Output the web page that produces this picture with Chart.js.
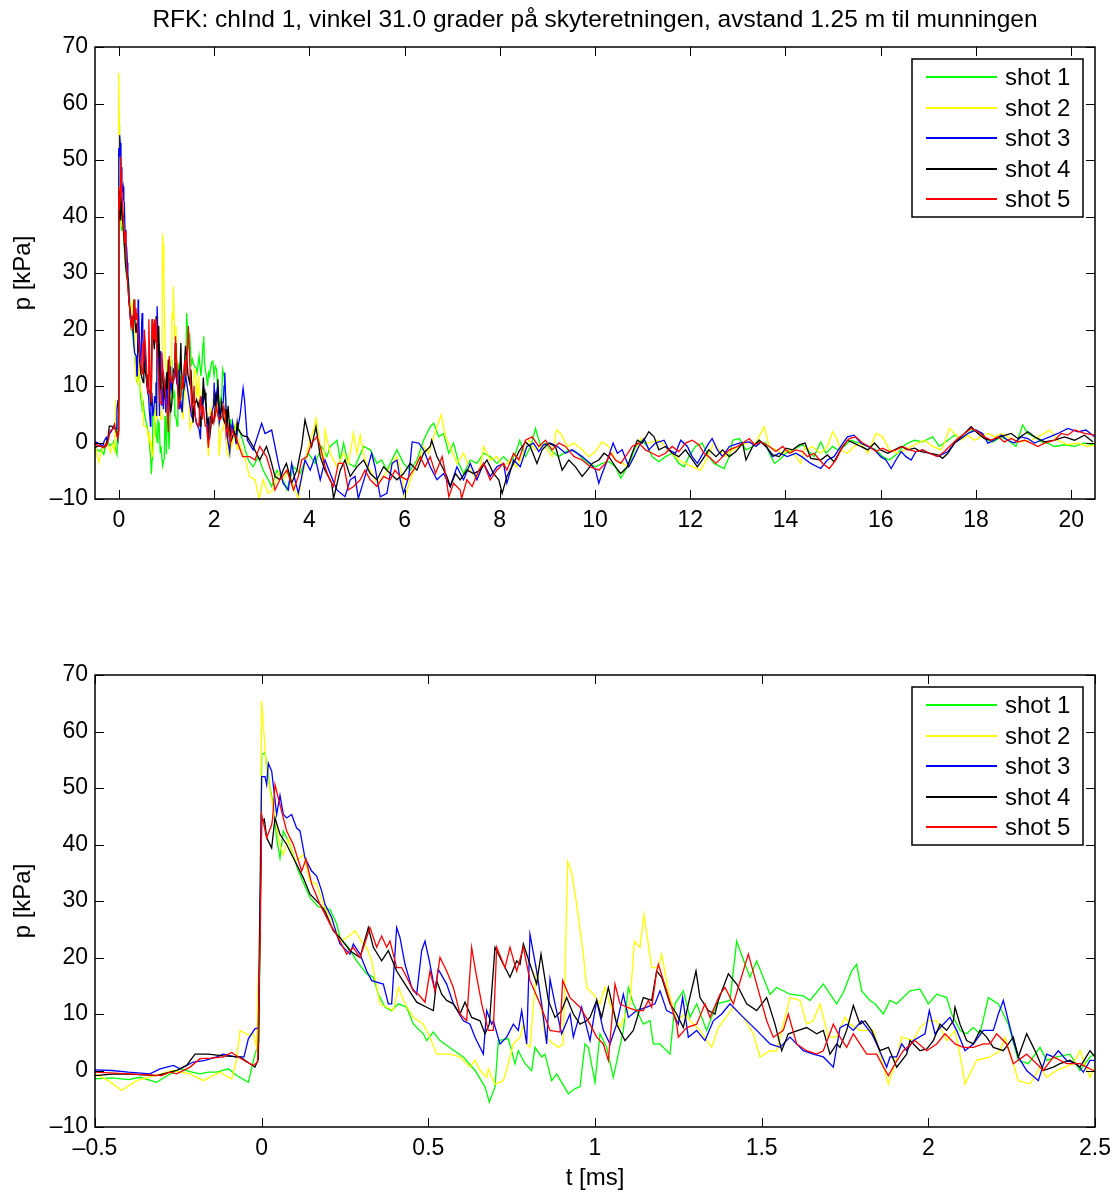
<!DOCTYPE html>
<html>
<head>
<meta charset="utf-8">
<title>RFK chInd 1</title>
<script src="https://cdn.jsdelivr.net/npm/chart.js@4.4.1/dist/chart.umd.min.js"></script>
<style>
  html, body { margin: 0; padding: 0; background: #fff; }
  #page { position: relative; width: 1117px; height: 1194px; }
  .panel { position: absolute; left: 0; }
</style>
</head>
<body>
<div id="page">
  <canvas id="overviewChart" class="panel" style="top:0" width="1117" height="560"></canvas>
  <canvas id="zoomChart" class="panel" style="top:600px" width="1117" height="594"></canvas>
</div>
<script>
// Trykk p [kPa] mot tid t [ms], fem skudd, kanal 1
const shotLabels = ['shot 1', 'shot 2', 'shot 3', 'shot 4', 'shot 5'];
const shotColors = ['#00ff00', '#ffff00', '#0000ff', '#000000', '#ff0000'];

const pTicks = [-10, 0, 10, 20, 30, 40, 50, 60, 70];
const tTicksOverview = [0, 2, 4, 6, 8, 10, 12, 14, 16, 18, 20];
const tTicksZoom = [-0.5, 0, 0.5, 1, 1.5, 2, 2.5];

const titleText = 'RFK: chInd 1, vinkel 31.0 grader på skyteretningen, avstand 1.25 m til munningen';

// [t, p] fra -0.5 til 2.5 ms (støtbølgen)
const shot1Start = [[-0.5,-1.5],[-0.45,-1.3],[-0.4,-1.6],[-0.365,-1.2],[-0.315,-2.1],[-0.28,-0.8],[-0.245,0.3],[-0.215,-0.2],[-0.185,-0.6],[-0.16,-0.3],[-0.135,-0.3],[-0.1,0.3],[-0.075,-0.9],[-0.04,-2.1],[-0.02,2.9],[-0.008,5],[0,55.9],[0.01,56.2],[0.015,54],[0.025,50],[0.035,47],[0.045,41],[0.055,37.6],[0.065,42.4],[0.085,40],[0.11,35.3],[0.145,30.6],[0.17,29],[0.205,28.5],[0.225,26],[0.235,23.5],[0.26,21.8],[0.285,19.4],[0.315,17.1],[0.335,16.5],[0.35,13.5],[0.37,11.2],[0.39,10.6],[0.41,11.8],[0.435,11.2],[0.455,8.2],[0.485,6.5],[0.495,5.3],[0.515,6.8],[0.535,5.3],[0.57,3.8],[0.605,2.4],[0.64,0],[0.67,-2.9],[0.683,-5.6],[0.7,-2.9],[0.71,5.3],[0.74,5.6],[0.76,1.2],[0.77,3.5],[0.79,1.2],[0.81,0],[0.82,4.1],[0.84,2.4],[0.85,2.9],[0.87,-1.8],[0.885,-0.6],[0.92,-4.1],[0.94,-3.2],[0.955,-2.9],[0.97,4.7],[0.98,4.1],[1.0,-2.1],[1.015,6.5],[1.035,4.1],[1.055,-1.2],[1.085,7.1],[1.1,14.7],[1.115,11.8],[1.145,8.2],[1.165,8.8],[1.175,4.7],[1.195,4.7],[1.225,2.9],[1.24,11.8],[1.265,14.1],[1.285,9.4],[1.305,11.8],[1.335,7.1],[1.365,11.8],[1.405,12.4],[1.425,22.9],[1.45,18.8],[1.465,16.5],[1.485,19.4],[1.525,13.5],[1.545,14.7],[1.585,13.5],[1.625,13.2],[1.645,12.4],[1.685,15.3],[1.725,11.8],[1.745,13.8],[1.77,17.6],[1.785,18.8],[1.8,14.1],[1.825,12.4],[1.84,11.8],[1.865,10],[1.885,12.4],[1.905,11.8],[1.945,14.1],[1.975,14.4],[2.0,11.8],[2.025,13.5],[2.055,12.9],[2.07,10],[2.095,7.1],[2.115,6.5],[2.135,7.6],[2.155,6.5],[2.18,12.9],[2.21,11.8],[2.24,8.2],[2.27,1.8],[2.3,1.2],[2.335,4.1],[2.355,1.8],[2.385,2.4],[2.425,2.9],[2.455,0],[2.485,2.4],[2.5,2.9]];
const shot2Start = [[-0.5,-0.6],[-0.46,-1.8],[-0.42,-3.5],[-0.375,-1.8],[-0.32,-0.9],[-0.265,0],[-0.215,-0.6],[-0.175,-1.8],[-0.125,-0.3],[-0.09,-1.5],[-0.075,2],[-0.065,7.1],[-0.035,6.2],[-0.025,6.5],[-0.015,4.1],[-0.005,30],[0,65.4],[0.015,53],[0.03,48],[0.055,40],[0.065,38.2],[0.08,41],[0.1,37],[0.125,38.2],[0.145,33.5],[0.165,33],[0.185,29.4],[0.21,26.5],[0.235,22.9],[0.255,23.5],[0.28,24.7],[0.305,22.4],[0.315,21.8],[0.33,19.4],[0.355,11.8],[0.375,11.2],[0.395,10.6],[0.41,14.7],[0.43,11.8],[0.455,9.4],[0.485,8.2],[0.505,5.9],[0.525,2.9],[0.565,2.9],[0.595,2.4],[0.625,0.6],[0.64,1.8],[0.655,0],[0.675,-1.2],[0.68,0.3],[0.7,-2.4],[0.725,-1.8],[0.74,1.2],[0.755,4.7],[0.775,5.9],[0.785,8.2],[0.795,4.7],[0.805,4.1],[0.825,18.2],[0.85,5.9],[0.89,4.1],[0.905,4.7],[0.918,37],[0.93,35],[0.945,29.4],[0.965,20.6],[0.975,14.7],[0.995,13.5],[1.015,11.8],[1.03,14.7],[1.045,11.8],[1.075,7.6],[1.105,11.8],[1.118,22.9],[1.135,21.8],[1.147,27.6],[1.17,18.2],[1.19,18.2],[1.2,20.6],[1.22,14.1],[1.245,8.8],[1.27,10],[1.285,8.8],[1.315,7.1],[1.35,4.1],[1.37,7.6],[1.415,11.2],[1.445,9.4],[1.475,6.5],[1.495,2.4],[1.525,3.5],[1.545,3.5],[1.565,8.2],[1.585,12.9],[1.615,12.4],[1.635,8.2],[1.655,8.8],[1.675,11.8],[1.7,5.9],[1.725,5.9],[1.75,9.4],[1.765,8.2],[1.795,7.1],[1.835,7.1],[1.855,2.9],[1.88,-2.4],[1.9,1.2],[1.92,5.9],[1.955,5.3],[1.975,7.6],[2.0,8.8],[2.025,8.8],[2.055,5.3],[2.08,7.1],[2.1,1.2],[2.11,-2.4],[2.145,1.8],[2.185,2.4],[2.215,3.5],[2.23,5.9],[2.255,1.2],[2.27,-1.8],[2.305,-2.4],[2.335,0.6],[2.355,-1.2],[2.385,0],[2.435,1.2],[2.455,3.5],[2.485,-1.2],[2.5,0.6]];
const shot3Start = [[-0.5,0.1],[-0.45,0],[-0.4,-0.3],[-0.335,-0.6],[-0.305,0.3],[-0.265,0.9],[-0.245,0.3],[-0.205,1.5],[-0.17,1.8],[-0.135,2.4],[-0.115,2.9],[-0.08,2.4],[-0.053,2.4],[-0.04,5.6],[-0.02,7.4],[-0.01,7.5],[-0.003,40],[0,52],[0.01,52],[0.015,50.6],[0.02,54.4],[0.03,53],[0.045,45.3],[0.055,48.7],[0.065,45.3],[0.075,44.7],[0.09,45.3],[0.105,42.9],[0.115,42.4],[0.13,37.6],[0.15,35.3],[0.165,34.4],[0.18,31.8],[0.19,29.4],[0.21,27.1],[0.225,24.1],[0.235,22.4],[0.265,20.6],[0.275,22.4],[0.295,20.6],[0.315,17.6],[0.33,15.9],[0.365,15.3],[0.38,11.8],[0.39,11.8],[0.405,25.3],[0.415,23.5],[0.43,18.8],[0.45,14.7],[0.465,13.5],[0.48,21.2],[0.49,22.9],[0.503,19.4],[0.52,14.1],[0.53,17.9],[0.555,15.3],[0.575,11.8],[0.605,8.8],[0.625,8.2],[0.64,5.9],[0.665,2.9],[0.675,10.6],[0.69,8.2],[0.695,8.8],[0.715,4.7],[0.735,5.9],[0.755,8.2],[0.77,7.1],[0.78,10.6],[0.795,4.7],[0.805,24.1],[0.825,17.6],[0.84,11.8],[0.855,4.7],[0.865,16.2],[0.88,11.8],[0.9,6.5],[0.925,10],[0.935,5.9],[0.96,11.2],[0.985,5.3],[1.005,12.4],[1.025,7.1],[1.045,4.7],[1.065,8.2],[1.085,13.5],[1.1,9.4],[1.125,10.6],[1.155,11.2],[1.18,11.8],[1.195,14.1],[1.215,10.6],[1.235,10],[1.25,8.2],[1.263,12.9],[1.28,5.9],[1.305,7.1],[1.33,5.3],[1.355,8.8],[1.38,10],[1.405,11.8],[1.445,9.4],[1.485,7.1],[1.525,4.7],[1.555,4.1],[1.585,5.9],[1.625,3.5],[1.655,2.9],[1.685,2.4],[1.715,0.6],[1.735,7.6],[1.755,8.2],[1.775,7.1],[1.8,8.8],[1.83,6.5],[1.845,4.7],[1.875,0.6],[1.885,2.4],[1.905,2.4],[1.92,4.7],[1.935,3.5],[1.955,5.3],[1.99,6.5],[2.003,10.6],[2.02,6.5],[2.045,8.2],[2.065,9.4],[2.085,7.1],[2.11,3.5],[2.135,4.7],[2.165,7.1],[2.195,7.1],[2.21,10],[2.225,12.4],[2.24,8.8],[2.255,5.3],[2.27,2.4],[2.295,0],[2.33,-1.8],[2.355,2.9],[2.375,2.4],[2.39,3.5],[2.415,1.8],[2.445,1.2],[2.465,-0.3],[2.485,1.8],[2.5,1.8]];
const shot4Start = [[-0.5,-0.9],[-0.44,-0.6],[-0.38,-0.7],[-0.315,-0.9],[-0.255,0],[-0.225,0.9],[-0.2,2.9],[-0.16,2.9],[-0.115,2.6],[-0.065,2.4],[-0.035,1.2],[-0.02,0.6],[-0.01,2],[-0.004,30],[0,44],[0.008,44.5],[0.015,41.2],[0.03,39.4],[0.04,44.7],[0.055,41.8],[0.075,40],[0.095,37.6],[0.125,34.1],[0.145,31.2],[0.175,29.4],[0.19,28.2],[0.215,24.7],[0.235,23.5],[0.265,21.2],[0.295,20],[0.32,25.3],[0.335,21.8],[0.36,19.4],[0.38,21.2],[0.405,17.6],[0.43,15.3],[0.465,12.1],[0.495,11.2],[0.515,10.6],[0.525,15.9],[0.54,13.5],[0.555,12.4],[0.575,11.8],[0.595,10],[0.61,12.1],[0.63,9.4],[0.655,8.8],[0.67,6.5],[0.683,8.2],[0.7,21.8],[0.725,18.8],[0.745,16.5],[0.765,19.4],[0.775,18.8],[0.785,22.4],[0.805,18.8],[0.825,15.3],[0.838,20.6],[0.86,12.4],[0.88,9.4],[0.9,10.6],[0.915,12.9],[0.935,10],[0.955,8.2],[0.975,8.8],[0.985,9.4],[1.005,12.4],[1.02,9.4],[1.04,14.7],[1.065,8.2],[1.09,5.3],[1.115,7.1],[1.145,12.9],[1.17,12.4],[1.185,17.6],[1.2,16.5],[1.225,11.8],[1.245,10],[1.265,7.6],[1.28,11.8],[1.303,17.6],[1.315,12.9],[1.34,10.6],[1.36,10],[1.37,12.4],[1.4,17.1],[1.425,15.3],[1.455,11.8],[1.485,10.6],[1.515,12.9],[1.54,8.2],[1.56,3.5],[1.58,6.5],[1.61,7.1],[1.635,7.6],[1.665,6.5],[1.685,7.1],[1.705,2.9],[1.725,4.7],[1.735,4.1],[1.755,7.1],[1.775,11.5],[1.795,8.2],[1.81,8.8],[1.83,7.1],[1.855,3.5],[1.88,4.1],[1.905,0.6],[1.935,2.9],[1.945,5.3],[1.975,3.5],[1.995,3.8],[2.015,5.3],[2.035,8.2],[2.055,7.1],[2.075,8.8],[2.08,11.2],[2.095,8.2],[2.115,5.3],[2.135,4.7],[2.155,7.1],[2.175,5.9],[2.195,4.1],[2.225,3.5],[2.255,5.9],[2.27,2.4],[2.295,6.5],[2.325,2.9],[2.345,0],[2.375,0.6],[2.395,1.2],[2.425,1.8],[2.455,0.6],[2.485,3.5],[2.5,2.4]];
const shot5Start = [[-0.5,-0.3],[-0.4,-0.6],[-0.3,-0.9],[-0.275,-0.3],[-0.255,-0.6],[-0.215,0.6],[-0.185,2.1],[-0.15,2.2],[-0.115,2.4],[-0.09,3.2],[-0.07,2.4],[-0.045,1.5],[-0.025,0.9],[-0.012,1.5],[-0.004,25],[0,45.3],[0.015,41.2],[0.03,43.5],[0.033,44.7],[0.04,50.6],[0.055,47],[0.075,42.4],[0.095,40],[0.12,35.3],[0.133,37.4],[0.15,33],[0.175,29.4],[0.205,25.9],[0.23,23.5],[0.255,20.6],[0.275,21.8],[0.295,20],[0.325,25.3],[0.345,21.8],[0.36,23.8],[0.375,21.8],[0.385,22.9],[0.405,18.2],[0.42,18.2],[0.435,16.5],[0.455,14.1],[0.47,13.5],[0.49,12.1],[0.505,17.6],[0.52,14.1],[0.535,20],[0.555,17.6],[0.575,14.7],[0.595,10],[0.615,8.8],[0.63,21.8],[0.64,18.2],[0.66,11.8],[0.68,7.1],[0.695,7.1],[0.705,21.8],[0.73,18.2],[0.745,21.8],[0.765,17.6],[0.785,21.8],[0.805,15.9],[0.835,11.8],[0.865,7.1],[0.895,6.8],[0.903,15.9],[0.925,12.9],[0.955,11.2],[0.985,8.2],[1.005,5.9],[1.025,4.7],[1.04,1.8],[1.06,15.3],[1.075,11.8],[1.095,11.2],[1.125,10.6],[1.145,10.6],[1.16,12.4],[1.17,11.2],[1.185,17.6],[1.19,18.8],[1.215,14.1],[1.245,8.2],[1.25,5.9],[1.275,7.6],[1.305,8.2],[1.33,11.8],[1.345,9.4],[1.375,13.5],[1.39,14.7],[1.415,11.8],[1.46,20.6],[1.485,15.3],[1.515,8.8],[1.535,5.9],[1.565,7.1],[1.58,10],[1.605,4.7],[1.635,3.5],[1.665,2.9],[1.685,3.5],[1.715,8.2],[1.735,5.9],[1.755,4.1],[1.775,6.5],[1.795,4.7],[1.815,2.9],[1.845,2.9],[1.86,1.2],[1.88,-0.9],[1.9,1.2],[1.925,3.5],[1.96,5.3],[1.995,3.5],[2.025,4.7],[2.05,6.5],[2.08,4.7],[2.105,4.1],[2.135,4.1],[2.165,4.7],[2.185,4.7],[2.205,6.5],[2.235,4.7],[2.255,1.2],[2.295,2.9],[2.325,1.2],[2.345,0],[2.375,2.4],[2.415,1.2],[2.455,1.2],[2.495,0]];

// [t, p] fra 2.5 til 20.5 ms (etterforløpet)
const shot1Tail = [[2.6,0.4],[2.72,-3.1],[2.82,-4.3],[2.93,-2.5],[3.03,-4.9],[3.14,-6.6],[3.21,-7.8],[3.32,-4.9],[3.45,-6.6],[3.53,-8.4],[3.67,-4.3],[3.81,-5.5],[3.98,-1.9],[4.12,-3.7],[4.26,-0.7],[4.37,-2.5],[4.44,-0.7],[4.58,0.4],[4.65,-3.1],[4.72,-0.1],[4.82,-3.7],[4.96,-4.3],[5.14,-0.7],[5.28,-1.3],[5.42,-3.7],[5.52,-3.1],[5.63,-4.9],[5.77,-2.5],[5.84,-1.3],[5.98,-3.7],[6.12,-4.9],[6.26,-3.1],[6.4,0.4],[6.54,2.8],[6.61,3.4],[6.72,1],[6.82,1.6],[6.93,-1.9],[7.03,-0.1],[7.14,-3.7],[7.24,-5.5],[7.38,-3.1],[7.52,-3.7],[7.66,-1.9],[7.8,-2.5],[7.94,-3.7],[8.08,-2.5],[8.22,-3.7],[8.33,-1.9],[8.42,0.4],[8.54,-2.5],[8.65,-0.7],[8.75,2.5],[8.86,-0.7],[8.96,-0.1],[9.1,-1.6],[9.24,-2.5],[9.45,-1.3],[9.59,-1.6],[9.73,-2.8],[9.87,-3.7],[10.01,-4.3],[10.15,-3.7],[10.29,-3.4],[10.43,-4.3],[10.54,-6.3],[10.64,-4.9],[10.75,-3.1],[10.85,-0.7],[10.99,0.4],[11.1,-0.7],[11.2,-2.5],[11.34,-3.4],[11.48,-2.5],[11.62,-1.9],[11.76,-3.7],[11.87,-4.3],[11.97,-2.5],[12.11,-0.7],[12.25,-0.1],[12.39,-2.5],[12.5,-3.7],[12.71,-4.6],[12.82,-2.5],[12.89,0.4],[13.03,0.7],[13.17,-1.3],[13.31,-0.7],[13.45,0.1],[13.59,-0.1],[13.66,-1.9],[13.77,-3.7],[13.87,-3.1],[14.01,-1.9],[14.15,-1.3],[14.36,-0.4],[14.6,-2.5],[14.74,0.1],[14.85,-1.9],[14.99,-0.7],[15.09,-1.3],[15.23,-0.7],[15.37,0.4],[15.55,-0.1],[15.73,-0.7],[15.9,-1.3],[16.04,-2.5],[16.18,-3.1],[16.36,-1.9],[16.46,-0.7],[16.57,-0.1],[16.71,0.4],[16.88,0.1],[17.09,1],[17.23,-0.7],[17.41,0.4],[17.55,1.3],[17.69,0.7],[17.83,1.6],[17.93,2.2],[18.11,1.6],[18.25,0.4],[18.35,0.1],[18.53,1],[18.67,0.4],[18.84,-0.7],[18.91,1.3],[18.98,3.1],[19.09,1.6],[19.23,1],[19.37,0.1],[19.51,-0.1],[19.65,-0.7],[19.86,-0.4],[20.07,-0.7],[20.28,-0.1],[20.49,-0.4]];
const shot2Tail = [[2.68,-3.7],[2.74,-6],[2.86,-6.6],[2.95,-9.9],[3.03,-6.6],[3.14,-9],[3.24,-8.4],[3.38,-4.9],[3.45,-6.6],[3.56,-4.9],[3.67,-7.8],[3.77,-9.9],[3.84,-6.6],[3.98,-0.7],[4.09,2.2],[4.14,4.3],[4.23,-0.7],[4.3,-3.7],[4.33,2.2],[4.44,-1.9],[4.58,-4.3],[4.72,-1.9],[4.82,-3.7],[4.93,1.6],[5.0,-1.9],[5.07,1.3],[5.17,-3.1],[5.28,-4.9],[5.42,-7.2],[5.56,-6],[5.7,-4.3],[5.84,-2.5],[5.94,-5.5],[6.0,-9.9],[6.12,-6.6],[6.26,-3.7],[6.4,-0.7],[6.5,-1.9],[6.68,2.8],[6.77,4.9],[6.86,1],[6.96,-0.7],[7.1,-3.7],[7.24,-1.9],[7.38,-4.9],[7.52,-6.6],[7.59,-4.3],[7.66,-0.7],[7.8,-3.1],[7.94,-2.5],[8.08,-4.3],[8.22,-3.1],[8.36,-4.3],[8.5,-1.9],[8.61,0.4],[8.75,-1.3],[8.92,-0.4],[9.1,-2.5],[9.19,2.2],[9.28,1.6],[9.42,-0.7],[9.56,-0.1],[9.73,-1.3],[9.87,-2.5],[10.01,-1.6],[10.14,0.1],[10.29,-0.7],[10.43,-3.1],[10.57,-3.7],[10.71,-4.3],[10.82,-2.5],[10.96,0.7],[11.1,-0.1],[11.34,0.4],[11.48,-0.7],[11.62,-1.9],[11.76,-3.1],[11.9,-3.7],[12.05,-4.3],[12.22,-4.9],[12.33,-3.1],[12.5,-0.1],[12.6,-1.3],[12.75,-2.5],[12.89,-1.3],[13.03,-0.7],[13.24,0.1],[13.38,-0.1],[13.55,2.8],[13.66,-0.7],[13.8,-1.3],[13.94,-1.9],[14.08,-1.3],[14.22,-2.5],[14.32,-3.7],[14.41,-0.7],[14.46,-1.3],[14.56,-0.7],[14.74,-1.9],[14.88,-0.7],[14.99,1.9],[15.06,1],[15.16,-1.3],[15.3,-1.9],[15.44,-0.7],[15.58,-0.1],[15.73,-1.9],[15.9,1.6],[16.04,1],[16.18,-1.3],[16.36,-1.9],[16.5,-1.3],[16.64,-0.7],[16.78,-0.1],[16.92,0.4],[17.09,-0.7],[17.27,-1.3],[17.34,-0.1],[17.44,2.5],[17.55,1.6],[17.69,0.4],[17.83,1.3],[17.97,0.4],[18.11,1],[18.25,1.6],[18.39,1],[18.53,1.6],[18.74,0.7],[18.95,0.1],[19.16,0.4],[19.37,1.3],[19.55,2.2],[19.72,0.4],[19.93,-0.4],[20.14,-0.1],[20.35,-0.7],[20.49,-0.4]];
const shot3Tail = [[2.55,5],[2.61,9.6],[2.64,7.5],[2.7,0.4],[2.82,-1.3],[3.0,3.4],[3.07,1.6],[3.21,2.2],[3.28,-0.7],[3.35,-3.7],[3.45,-7.2],[3.56,-8.4],[3.63,-3.7],[3.7,-6.6],[3.77,-9],[3.91,-3.1],[4.02,-4.9],[4.12,-2.5],[4.23,-6.6],[4.33,-3.1],[4.44,-5.5],[4.58,-8.4],[4.75,-9.6],[4.86,-6.6],[4.96,-6],[5.03,-9.9],[5.21,-4.9],[5.31,-1.9],[5.38,-4.3],[5.49,-9.6],[5.63,-9],[5.74,-3.7],[5.84,-3.1],[5.91,-6.6],[5.98,-9],[6.09,-6],[6.16,0.1],[6.3,-0.1],[6.4,-1.3],[6.54,-4.3],[6.68,-6.6],[6.82,-5.5],[6.96,-7.8],[7.1,-4.3],[7.24,-6.6],[7.38,-3.7],[7.52,-6.6],[7.66,-3.7],[7.8,-6],[7.94,-4.3],[8.08,-3.7],[8.15,-7.2],[8.29,-3.1],[8.43,-4.3],[8.57,-0.7],[8.71,-0.1],[8.82,-1.6],[8.92,-0.4],[9.07,-0.1],[9.21,-0.7],[9.38,-1.9],[9.52,-1.3],[9.73,-2.5],[9.9,-3.7],[10.01,-4.9],[10.08,-7.2],[10.15,-5.5],[10.26,-3.1],[10.38,-0.1],[10.47,-1.9],[10.57,-1.3],[10.71,-4.3],[10.82,-2.5],[10.92,-0.7],[11.03,0.7],[11.13,-1.3],[11.27,-0.1],[11.45,0.4],[11.55,-1.3],[11.69,-1.9],[11.8,0.4],[11.94,-0.7],[12.04,-2.5],[12.15,-3.7],[12.25,-2.2],[12.39,-0.1],[12.46,0.7],[12.57,-1.3],[12.68,-2.5],[12.82,-0.7],[13.03,-0.1],[13.24,0.1],[13.38,-0.7],[13.49,0.1],[13.59,-0.7],[13.73,-2.5],[13.87,-1.9],[14.04,-2.5],[14.22,-1.9],[14.34,-2.5],[14.53,-3.7],[14.74,-4.6],[14.88,-3.1],[15.02,-2.5],[15.16,-0.7],[15.3,1],[15.44,1.3],[15.58,-0.1],[15.73,-0.7],[15.87,-1.3],[16.0,-2.5],[16.11,-3.1],[16.22,-4.6],[16.32,-3.1],[16.43,-1.6],[16.53,-2.5],[16.64,-3.1],[16.74,-1.6],[16.88,-1.3],[17.02,-1.9],[17.2,-2.5],[17.41,-1.6],[17.55,-0.1],[17.69,0.7],[17.83,1.6],[18.0,2.2],[18.14,1.6],[18.25,-0.1],[18.39,0.4],[18.53,1.3],[18.67,0.4],[18.81,-0.1],[18.95,1],[19.09,0.7],[19.23,-0.1],[19.37,0.4],[19.55,1],[19.72,1.6],[19.93,2.5],[20.14,1.9],[20.31,2.2],[20.49,1]];
const shot4Tail = [[2.6,1.2],[2.7,1],[2.82,-0.7],[2.96,-3.1],[3.1,-0.7],[3.17,-2.5],[3.28,-6],[3.38,-6.6],[3.45,-4.9],[3.52,-3.7],[3.63,-7.2],[3.74,-4.9],[3.84,-0.7],[3.91,4],[3.98,1.6],[4.05,-0.7],[4.14,2.8],[4.23,-2.5],[4.33,-4.9],[4.4,-6],[4.47,-7.2],[4.51,-9.9],[4.65,-4.9],[4.75,-3.1],[4.86,-6],[5.0,-4.3],[5.14,-3.1],[5.28,-5.5],[5.42,-6.6],[5.56,-4.3],[5.7,-5.5],[5.84,-6.6],[5.98,-5.5],[6.12,-3.7],[6.26,-4.9],[6.4,-1.9],[6.54,-0.7],[6.57,0.4],[6.68,-2.5],[6.79,-4.3],[6.89,-6],[6.96,-7.8],[7.07,-5.5],[7.17,-6.6],[7.31,-4.9],[7.45,-5.5],[7.59,-4.9],[7.73,-3.1],[7.87,-5.5],[7.98,-6.6],[8.05,-9],[8.15,-6],[8.29,-3.7],[8.4,-1.6],[8.54,0.1],[8.64,-0.7],[8.78,-3.7],[8.89,-1.3],[9.03,-0.1],[9.17,-0.7],[9.31,-4.9],[9.45,-3.1],[9.59,-4.3],[9.73,-6],[9.84,-4.9],[9.94,-3.7],[10.08,-3.1],[10.19,-1.9],[10.29,-2.5],[10.43,-4.3],[10.54,-5.5],[10.68,-4.3],[10.78,-1.9],[10.89,0.4],[10.99,-0.1],[11.13,1.9],[11.24,1],[11.34,-1.3],[11.48,-0.7],[11.62,-1.9],[11.76,-2.5],[11.9,-1.3],[12.0,-2.5],[12.15,-4.3],[12.25,-3.1],[12.39,-1.3],[12.54,-2.5],[12.68,-1.3],[12.82,-2.5],[12.96,-1.6],[13.1,-0.1],[13.17,-3.1],[13.31,-0.7],[13.45,0.4],[13.59,-0.7],[13.73,-2.2],[13.87,-2.5],[14.01,-1],[14.15,-1.3],[14.29,-0.4],[14.41,-0.1],[14.53,-2.8],[14.74,-3.1],[14.88,-2.2],[15.02,-3.4],[15.16,-1.3],[15.3,0.4],[15.44,-0.1],[15.58,-0.7],[15.73,-1.3],[15.87,-0.1],[16.0,-1.3],[16.15,-1.9],[16.29,-1.3],[16.43,-0.7],[16.57,-1.3],[16.71,-1],[16.85,-1.6],[17.02,-1.9],[17.2,-2.2],[17.3,-2.8],[17.41,-1.9],[17.55,-0.1],[17.69,1],[17.83,2.2],[17.9,2.8],[18.04,1.6],[18.18,0.7],[18.32,0.4],[18.5,1],[18.74,1.6],[18.88,0.7],[19.09,1.9],[19.23,1],[19.44,0.1],[19.65,0.4],[19.86,1],[20.07,0.4],[20.28,1.3],[20.46,0.1]];
const shot5Tail = [[2.6,-2.5],[2.75,-2.5],[2.86,-3.1],[2.96,-0.7],[3.1,-2.5],[3.21,-5.5],[3.28,-8.4],[3.38,-6.6],[3.53,-4.9],[3.67,-8.4],[3.77,-6],[3.84,-3.1],[3.95,-2.5],[4.05,-0.1],[4.16,1],[4.23,-0.7],[4.33,-4.3],[4.4,-6],[4.51,-7.8],[4.61,-3.7],[4.72,-3.7],[4.82,-8.4],[4.93,-7.8],[5.07,-6.6],[5.17,-4.9],[5.28,-6.6],[5.42,-7.8],[5.56,-6],[5.7,-6.6],[5.8,-4.9],[5.91,-6],[6.05,-6.6],[6.23,-4.3],[6.33,-2.5],[6.43,-4.3],[6.54,-2.5],[6.65,-5.5],[6.79,-2.5],[6.86,-5.5],[6.93,-9.6],[7.03,-7.2],[7.17,-8.4],[7.2,-9.9],[7.31,-6.6],[7.42,-7.8],[7.56,-4.9],[7.66,-3.7],[7.8,-6.6],[7.94,-4.9],[8.08,-3.7],[8.15,-4.9],[8.29,-1.9],[8.4,-3.1],[8.54,0.4],[8.68,1],[8.82,-0.7],[8.96,0.4],[9.1,-1.3],[9.24,-0.1],[9.38,-0.7],[9.56,-2.5],[9.73,-3.1],[9.9,-4.3],[10.08,-4.9],[10.22,-3.7],[10.33,-1.9],[10.43,-3.1],[10.54,-3.7],[10.64,-2.5],[10.78,-0.7],[10.92,-0.1],[11.06,-1.3],[11.2,-1.9],[11.34,-2.5],[11.48,-1.9],[11.62,-0.7],[11.76,-1.6],[11.9,-0.1],[12.04,0.4],[12.18,-0.4],[12.29,-1.9],[12.39,-2.5],[12.54,-3.7],[12.68,-2.5],[12.82,-1.3],[12.99,-0.7],[13.1,-0.1],[13.24,0.7],[13.35,-0.4],[13.49,0.1],[13.66,-0.7],[13.8,-1.6],[13.94,-0.7],[14.08,-1.9],[14.22,-1.3],[14.36,-1.6],[14.46,-2.5],[14.6,-1.9],[14.78,-3.7],[14.92,-4.6],[15.06,-3.1],[15.2,-0.7],[15.34,0.7],[15.48,1],[15.62,-0.1],[15.76,-0.7],[15.9,-1.6],[16.04,-1],[16.18,-1.6],[16.32,-1.3],[16.46,-0.7],[16.6,-1.3],[16.74,-1.6],[16.88,-1.3],[17.02,-1.9],[17.2,-2.5],[17.34,-1.6],[17.48,-0.4],[17.62,0.7],[17.76,1.6],[17.9,2.5],[18.04,1.9],[18.18,1],[18.32,0.4],[18.46,1],[18.6,0.1],[18.74,0.7],[18.88,0.1],[19.02,0.4],[19.16,-0.1],[19.3,-0.7],[19.44,-0.1],[19.65,0.4],[19.79,1.6],[19.93,1.3],[20.07,2.2],[20.28,1.6],[20.49,1.3]];

const shotStart = [shot1Start, shot2Start, shot3Start, shot4Start, shot5Start];
const shotTail = [shot1Tail, shot2Tail, shot3Tail, shot4Tail, shot5Tail];

const FONT_FAMILY = '"Liberation Sans", Arial, Helvetica, sans-serif';
const tickFont = { family: FONT_FAMILY, size: 23 };
const labelFont = { family: FONT_FAMILY, size: 24 };

// minus som tankestrek, som i MATLAB-figurer
function fmtTick(value) {
    return String(value).replace('-', '\u2013');
}

// Ramme rundt plottet med innvendige tick-streker på alle fire sider
const axesFrame = {
    id: 'axesFrame',
    afterDatasetsDraw(chart) {
        const { ctx, chartArea: a, scales: { x, y } } = chart;
        const len = 9;
        ctx.save();
        ctx.strokeStyle = '#000';
        ctx.lineWidth = 1;
        ctx.beginPath();
        x.ticks.forEach(t => {
            const px = Math.round(x.getPixelForValue(t.value)) + 0.5;
            ctx.moveTo(px, a.bottom); ctx.lineTo(px, a.bottom - len);
            ctx.moveTo(px, a.top); ctx.lineTo(px, a.top + len);
        });
        y.ticks.forEach(t => {
            const py = Math.round(y.getPixelForValue(t.value)) + 0.5;
            ctx.moveTo(a.left, py); ctx.lineTo(a.left + len, py);
            ctx.moveTo(a.right, py); ctx.lineTo(a.right - len, py);
        });
        ctx.stroke();
        ctx.lineWidth = 1.5;
        ctx.strokeRect(a.left, a.top, a.right - a.left, a.bottom - a.top);
        ctx.restore();
    }
};

// Tegnforklaring i øvre høyre hjørne, inne i plottet
const legendBox = {
    id: 'legendBox',
    afterDatasetsDraw(chart) {
        const { ctx, chartArea: a } = chart;
        const sets = chart.data.datasets;
        const w = 171, rowH = 30.5;
        const h = 36 + (sets.length - 1) * rowH;
        const x0 = Math.round(a.right - 12 - w);
        const y0 = Math.round(a.top + 12);
        ctx.save();
        ctx.fillStyle = '#fff';
        ctx.fillRect(x0, y0, w, h);
        ctx.strokeStyle = '#000';
        ctx.lineWidth = 1.5;
        ctx.strokeRect(x0, y0, w, h);
        ctx.font = labelFont.size + 'px ' + FONT_FAMILY;
        ctx.textBaseline = 'middle';
        sets.forEach((ds, i) => {
            const cy = Math.round(y0 + 18 + i * rowH);
            ctx.strokeStyle = ds.borderColor;
            ctx.lineWidth = 2;
            ctx.beginPath();
            ctx.moveTo(x0 + 14, cy);
            ctx.lineTo(x0 + 85, cy);
            ctx.stroke();
            ctx.fillStyle = '#000';
            ctx.fillText(ds.label, x0 + 93, cy + 1);
        });
        ctx.restore();
    }
};

function buildDatasets() {
    return shotLabels.map((label, i) => ({
        label,
        data: shotStart[i].concat(shotTail[i]),
        borderColor: shotColors[i],
        borderWidth: 1.3,
        pointRadius: 0,
        tension: 0,
        fill: false,
        // siste skudd tegnes øverst
        order: shotLabels.length - i
    }));
}

function buildOptions(cfg) {
    return {
        responsive: false,
        animation: false,
        events: [],
        layout: { padding: { top: cfg.padTop, right: 22, left: 0, bottom: 0 } },
        plugins: {
            legend: { display: false },
            tooltip: { enabled: false },
            title: cfg.title ? {
                display: true,
                text: cfg.title,
                fullSize: false,
                color: '#000',
                font: { family: FONT_FAMILY, size: 24.5, weight: 'normal' },
                padding: { top: 5.3, bottom: 12.3 }
            } : { display: false }
        },
        scales: {
            x: {
                type: 'linear',
                min: cfg.xMin,
                max: cfg.xMax,
                afterBuildTicks: s => { s.ticks = cfg.xTicks.map(v => ({ value: v })); },
                afterFit: s => {
                    s.height = cfg.xHeight;
                    s.paddingLeft = 0;
                    s.paddingRight = 0;
                },
                grid: { display: false, drawTicks: false },
                border: { display: false },
                ticks: { padding: 8, color: '#000', font: tickFont, maxRotation: 0, autoSkip: false, callback: fmtTick },
                title: cfg.xTitle ? {
                    display: true,
                    text: cfg.xTitle,
                    color: '#000',
                    font: labelFont,
                    padding: { top: 0, bottom: 1.6 }
                } : { display: false }
            },
            y: {
                type: 'linear',
                min: -10,
                max: 70,
                afterBuildTicks: s => { s.ticks = pTicks.map(v => ({ value: v })); },
                afterFit: s => { s.width = 95; },
                grid: { display: false, drawTicks: false },
                border: { display: false },
                ticks: { padding: 7, color: '#000', font: tickFont, autoSkip: false, callback: fmtTick },
                title: {
                    display: true,
                    text: 'p [kPa]',
                    color: '#000',
                    font: labelFont,
                    padding: { top: 9, bottom: 0 }
                }
            }
        }
    };
}

// Hele forløpet, 0-20 ms
new Chart(document.getElementById('overviewChart'), {
    type: 'line',
    data: { datasets: buildDatasets() },
    options: buildOptions({
        title: titleText, padTop: 0,
        xMin: -0.5, xMax: 20.5, xTicks: tTicksOverview, xHeight: 61
    }),
    plugins: [axesFrame, legendBox]
});

// Utsnitt rundt støtbølgen, -0.5 til 2.5 ms
new Chart(document.getElementById('zoomChart'), {
    type: 'line',
    data: { datasets: buildDatasets() },
    options: buildOptions({
        padTop: 75,
        xMin: -0.5, xMax: 2.5, xTicks: tTicksZoom, xHeight: 67, xTitle: 't [ms]'
    }),
    plugins: [axesFrame, legendBox]
});
</script>
</body>
</html>
